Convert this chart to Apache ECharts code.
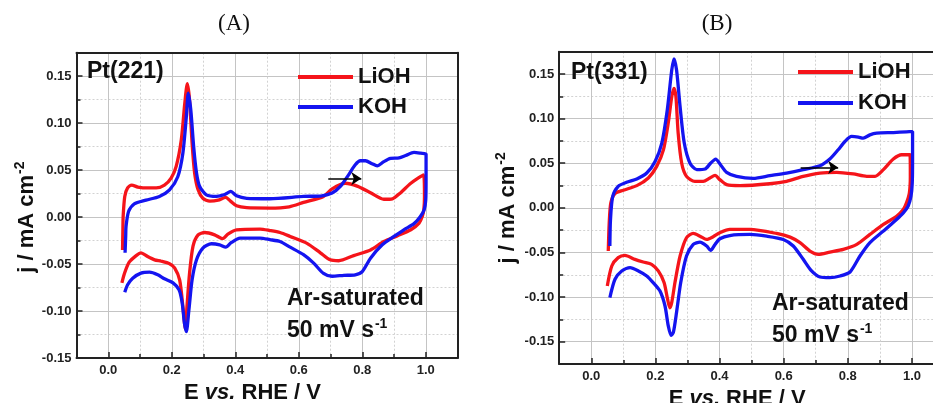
<!DOCTYPE html>
<html>
<head>
<meta charset="utf-8">
<script src="https://cdn.jsdelivr.net/npm/echarts@6/dist/echarts.min.js"></script>
<style>
  html, body { margin: 0; padding: 0; background: #ffffff; }
  #chart { width: 933px; height: 403px; }
</style>
</head>
<body>
<div id="chart"></div>
<script>
// Cyclic voltammograms of stepped Pt electrodes, [E (V vs RHE), j (mA cm^-2)]
const pt221_LiOH = [
  [0.045,-0.035],[0.046,-0.015],[0.047,0.001],[0.052,0.022],[0.061,0.031],[0.074,0.034],[0.093,0.032],
  [0.124,0.031],[0.151,0.031],[0.177,0.034],[0.198,0.0415],[0.214,0.054],[0.230,0.082],[0.241,0.121],
  [0.249,0.142],[0.256,0.125],[0.264,0.079],[0.272,0.047],[0.283,0.029],[0.298,0.020],[0.320,0.017],
  [0.346,0.018],[0.370,0.021],[0.385,0.017],[0.404,0.012],[0.436,0.010],[0.509,0.0096],[0.570,0.011],
  [0.615,0.0156],[0.678,0.022],[0.705,0.030],[0.747,0.036],[0.784,0.033],[0.826,0.026],[0.868,0.019],
  [0.895,0.0195],[0.921,0.026],[0.953,0.036],[0.993,0.045],[0.996,0.022],[0.994,0.008],[0.989,0.0006],
  [0.979,-0.0064],[0.953,-0.0135],[0.910,-0.020],[0.868,-0.026],[0.826,-0.035],[0.773,-0.041],
  [0.726,-0.0465],[0.699,-0.0455],[0.668,-0.038],[0.626,-0.028],[0.573,-0.0206],[0.541,-0.0164],
  [0.509,-0.0143],[0.478,-0.0128],[0.404,-0.0135],[0.378,-0.0178],[0.360,-0.023],[0.335,-0.0189],
  [0.304,-0.0164],[0.283,-0.019],[0.267,-0.031],[0.256,-0.060],[0.248,-0.095],[0.243,-0.119],
  [0.235,-0.095],[0.225,-0.067],[0.209,-0.054],[0.193,-0.0497],[0.167,-0.047],[0.146,-0.0455],
  [0.124,-0.042],[0.103,-0.038],[0.088,-0.041],[0.066,-0.048],[0.051,-0.060],[0.043,-0.070]
];
const pt221_KOH = [
  [0.053,-0.038],[0.055,-0.020],[0.056,-0.010],[0.064,0.006],[0.082,0.014],[0.119,0.018],[0.161,0.022],
  [0.193,0.029],[0.219,0.043],[0.235,0.068],[0.246,0.107],[0.252,0.132],[0.260,0.114],[0.269,0.075],
  [0.278,0.047],[0.288,0.0326],[0.309,0.0237],[0.341,0.022],[0.367,0.024],[0.386,0.0273],[0.404,0.0227],
  [0.436,0.020],[0.509,0.0195],[0.615,0.022],[0.673,0.0227],[0.705,0.0256],[0.731,0.0326],[0.757,0.045],
  [0.778,0.0557],[0.794,0.060],[0.810,0.060],[0.831,0.0568],[0.847,0.0546],[0.868,0.059],[0.889,0.0624],
  [0.916,0.063],[0.937,0.0656],[0.963,0.0688],[0.984,0.068],[1.001,0.067],[1.001,0.040],[1.000,0.0184],
  [0.995,0.0078],[0.982,0.0],[0.963,-0.007],[0.931,-0.0135],[0.900,-0.0206],[0.863,-0.0295],
  [0.826,-0.0437],[0.800,-0.058],[0.778,-0.0614],[0.742,-0.062],[0.705,-0.063],[0.678,-0.060],
  [0.647,-0.049],[0.615,-0.040],[0.573,-0.032],[0.541,-0.026],[0.509,-0.024],[0.478,-0.0224],
  [0.415,-0.0224],[0.388,-0.027],[0.370,-0.032],[0.351,-0.0295],[0.325,-0.0284],[0.298,-0.033],
  [0.278,-0.0455],[0.264,-0.067],[0.254,-0.099],[0.246,-0.122],[0.240,-0.113],[0.233,-0.0916],
  [0.223,-0.0774],[0.204,-0.070],[0.177,-0.0657],[0.156,-0.0614],[0.130,-0.0586],[0.103,-0.0596],
  [0.077,-0.065],[0.061,-0.072],[0.052,-0.080]
];
const pt331_LiOH = [
  [0.053,-0.0484],[0.056,-0.0168],[0.061,0.0056],[0.074,0.016],[0.100,0.0197],[0.142,0.0249],
  [0.178,0.0335],[0.204,0.0465],[0.225,0.065],[0.240,0.095],[0.251,0.1246],[0.258,0.134],[0.264,0.1246],
  [0.271,0.0837],[0.282,0.050],[0.297,0.0353],[0.323,0.0297],[0.349,0.0297],[0.370,0.0335],[0.386,0.0364],
  [0.401,0.0316],[0.422,0.026],[0.464,0.0249],[0.557,0.027],[0.609,0.0297],[0.661,0.0353],[0.713,0.039],
  [0.765,0.0398],[0.817,0.038],[0.859,0.0353],[0.885,0.0353],[0.911,0.0428],[0.942,0.0547],[0.968,0.0595],
  [0.994,0.0595],[0.995,0.0353],[0.992,0.0167],[0.983,0.0056],[0.973,-0.0019],[0.952,-0.0094],
  [0.911,-0.0186],[0.869,-0.0298],[0.828,-0.041],[0.786,-0.0466],[0.744,-0.0496],[0.708,-0.0521],
  [0.682,-0.0484],[0.651,-0.039],[0.620,-0.0328],[0.578,-0.0287],[0.495,-0.0242],[0.432,-0.0242],
  [0.401,-0.0279],[0.380,-0.0324],[0.360,-0.0354],[0.339,-0.0317],[0.318,-0.0287],[0.297,-0.0335],
  [0.277,-0.054],[0.261,-0.0837],[0.251,-0.106],[0.245,-0.112],[0.238,-0.1024],[0.227,-0.0837],
  [0.209,-0.0707],[0.188,-0.0633],[0.162,-0.0607],[0.136,-0.0577],[0.105,-0.0533],[0.084,-0.0558],
  [0.064,-0.0652],[0.050,-0.0875]
];
const pt331_KOH = [
  [0.058,-0.0428],[0.060,-0.013],[0.067,0.013],[0.084,0.0241],[0.110,0.0286],[0.142,0.0324],[0.173,0.039],
  [0.199,0.052],[0.220,0.0726],[0.237,0.1097],[0.251,0.1544],[0.258,0.167],[0.266,0.1544],[0.277,0.1134],
  [0.290,0.0726],[0.308,0.050],[0.329,0.0428],[0.355,0.0435],[0.372,0.050],[0.388,0.0547],[0.403,0.0483],
  [0.422,0.0398],[0.453,0.0353],[0.505,0.033],[0.557,0.036],[0.609,0.039],[0.661,0.0428],[0.713,0.0472],
  [0.744,0.0547],[0.770,0.0651],[0.791,0.0744],[0.812,0.080],[0.833,0.0793],[0.848,0.0781],[0.869,0.0818],
  [0.890,0.0837],[0.942,0.0844],[0.983,0.0852],[1.002,0.0855],[1.002,0.054],[1.001,0.028],[0.997,0.013],
  [0.988,0.0018],[0.973,-0.0056],[0.952,-0.013],[0.911,-0.026],[0.869,-0.039],[0.838,-0.054],
  [0.807,-0.0719],[0.776,-0.0764],[0.744,-0.0782],[0.713,-0.0775],[0.687,-0.0707],[0.661,-0.0577],
  [0.630,-0.0428],[0.599,-0.0354],[0.547,-0.0317],[0.495,-0.0298],[0.432,-0.031],[0.401,-0.0346],
  [0.386,-0.041],[0.372,-0.0477],[0.360,-0.0428],[0.339,-0.0384],[0.318,-0.041],[0.297,-0.054],
  [0.279,-0.0837],[0.266,-0.117],[0.256,-0.1396],[0.249,-0.143],[0.240,-0.132],[0.230,-0.110],
  [0.214,-0.093],[0.193,-0.0837],[0.173,-0.0763],[0.147,-0.0707],[0.121,-0.067],[0.095,-0.0707],
  [0.074,-0.080],[0.058,-0.1005]
];

// Scan-direction arrows [start, end]
const arrowA = [[0.693, 0.041], [0.797, 0.041]];
const arrowB = [[0.653, 0.0453], [0.770, 0.0453]];

// Axis ranges and labelled tick spans
const xRange = [-0.1, 1.1];
const yRanges = [[-0.15, 0.175], [-0.175, 0.175]];
const xTickSpan = [0, 1.0];      // labelled every 0.2
const yTickSpan = [-0.15, 0.15]; // labelled every 0.05
const xStep = 0.2;
const yStep = 0.05;

const panelTitles = ['(A)', '(B)'];
const electrodes = ['Pt(221)', 'Pt(331)'];
const seriesNames = ['LiOH', 'KOH'];

const RED = '#f5141a';
const BLUE = '#1414f0';
const AXIS = '#222222';
const FONT = 'Liberation Sans, Arial, sans-serif';
const SERIF = 'Liberation Serif, Times New Roman, serif';

const chart = echarts.init(document.getElementById('chart'), null, { renderer: 'canvas' });

// plotting frames (pixel boxes)
const frames = [
  { left: 76.5, top: 52.7, width: 381, height: 305.3 },
  { left: 559.2, top: 51.7, width: 384.8, height: 312.3 }
];

const grids = [];
const xAxes = [];
const yAxes = [];
const dataAxisIndex = [];

const nameRich = {
  n: { fontFamily: FONT, fontWeight: 'bold', fontSize: 22, color: '#111' },
  i: { fontFamily: FONT, fontWeight: 'bold', fontStyle: 'italic', fontSize: 22, color: '#111' },
  s: { fontFamily: FONT, fontWeight: 'bold', fontSize: 14, color: '#111', padding: [0, 0, 14, 1] }
};
const xNameGap = [10, 14];
const yNameGap = [28, 37];

const gridLineSolid = { color: '#c4c4c4', width: 1 };
const gridLineDot = { color: '#d2d2d2', width: 1, type: [2, 2] };
const tickStyle = { color: AXIS, width: 1.5 };
const labelStyle = { fontFamily: FONT, fontWeight: 'bold', fontSize: 13, color: '#222' };

frames.forEach(function (f, g) {
  const yr = yRanges[g];
  // sub-box spanning the labelled x range, full frame height
  const xFrac0 = (xTickSpan[0] - xRange[0]) / (xRange[1] - xRange[0]);
  const xFrac1 = (xTickSpan[1] - xRange[0]) / (xRange[1] - xRange[0]);
  const vBox = { left: f.left + f.width * xFrac0, top: f.top, width: f.width * (xFrac1 - xFrac0), height: f.height };
  // sub-box spanning the labelled y range, full frame width
  const yFrac0 = (yr[1] - yTickSpan[1]) / (yr[1] - yr[0]);
  const yFrac1 = (yr[1] - yTickSpan[0]) / (yr[1] - yr[0]);
  const hBox = { left: f.left, top: f.top + f.height * yFrac0, width: f.width, height: f.height * (yFrac1 - yFrac0) };

  const gData = grids.length;
  grids.push(Object.assign({ outerBoundsMode: 'none', containLabel: false }, f));
  const gV = grids.length;
  grids.push(Object.assign({ outerBoundsMode: 'none', containLabel: false }, vBox));
  const gH = grids.length;
  grids.push(Object.assign({ outerBoundsMode: 'none', containLabel: false }, hBox));

  dataAxisIndex.push({ x: xAxes.length, y: yAxes.length });

  // data axes: frame lines only
  xAxes.push({
    gridIndex: gData, type: 'value', position: 'bottom', min: xRange[0], max: xRange[1],
    axisLine: { show: true, onZero: false, lineStyle: { color: AXIS, width: 2 } },
    axisTick: { show: false }, axisLabel: { show: false }, splitLine: { show: false }
  });
  yAxes.push({
    gridIndex: gData, type: 'value', position: 'left', min: yr[0], max: yr[1],
    axisLine: { show: true, onZero: false, lineStyle: { color: AXIS, width: 2 } },
    axisTick: { show: false }, axisLabel: { show: false }, splitLine: { show: false }
  });
  xAxes.push({
    gridIndex: gData, type: 'value', position: 'top', min: xRange[0], max: xRange[1],
    axisLine: { show: true, onZero: false, lineStyle: { color: AXIS, width: 2 } },
    axisTick: { show: false }, axisLabel: { show: false }, splitLine: { show: false }
  });
  yAxes.push({
    gridIndex: gData, type: 'value', position: 'right', min: yr[0], max: yr[1],
    axisLine: { show: true, onZero: false, lineStyle: { color: AXIS, width: 2 } },
    axisTick: { show: false }, axisLabel: { show: false }, splitLine: { show: false }
  });

  // vertical grid, x ticks, x labels and x name
  xAxes.push({
    gridIndex: gV, type: 'value', position: 'bottom', min: xTickSpan[0], max: xTickSpan[1], interval: xStep,
    name: '{n|E }{i|vs.}{n| RHE / V}', nameLocation: 'middle', nameGap: xNameGap[g],
    nameTextStyle: { rich: nameRich, padding: [0, 29, 0, 0] },
    axisLine: { show: false, onZero: false },
    axisTick: { show: true, inside: true, length: 6, lineStyle: tickStyle },
    minorTick: { show: true, splitNumber: 2, length: 4, lineStyle: tickStyle },
    axisLabel: Object.assign({ margin: 6, formatter: function (v) { return v.toFixed(1); } }, labelStyle),
    splitLine: { show: true, lineStyle: gridLineSolid },
    minorSplitLine: { show: true, lineStyle: gridLineDot }
  });
  yAxes.push({ gridIndex: gV, type: 'value', show: false, min: 0, max: 1 });

  // horizontal grid, y ticks, y labels and y name
  xAxes.push({ gridIndex: gH, type: 'value', show: false, min: 0, max: 1 });
  yAxes.push({
    gridIndex: gH, type: 'value', position: 'left', min: yTickSpan[0], max: yTickSpan[1], interval: yStep,
    name: '{n|j / mA cm}{s|-2}', nameLocation: 'middle', nameGap: yNameGap[g],
    nameTextStyle: { rich: nameRich },
    axisLine: { show: false, onZero: false },
    axisTick: { show: true, inside: true, length: 6, lineStyle: tickStyle },
    minorTick: { show: true, splitNumber: 2, length: 4, lineStyle: tickStyle },
    axisLabel: Object.assign({ margin: 5, formatter: function (v) { return v.toFixed(2); } }, labelStyle),
    splitLine: { show: true, lineStyle: gridLineSolid },
    minorSplitLine: { show: true, lineStyle: gridLineDot }
  });
});

function cvSeries(name, data, color, g, arrow) {
  const s = {
    name: name, type: 'line', data: data,
    xAxisIndex: dataAxisIndex[g].x, yAxisIndex: dataAxisIndex[g].y,
    showSymbol: false, symbol: 'none', smooth: 0.25, z: name === 'KOH' ? 4 : 3,
    lineStyle: { color: color, width: 3.3 }, itemStyle: { color: color },
    animation: false
  };
  if (arrow) {
    s.markLine = {
      silent: true, animation: false, symbol: ['none', 'arrow'], symbolSize: 10,
      label: { show: false },
      lineStyle: { color: '#000', width: 1.5, type: 'solid' },
      data: [[{ coord: arrow[0] }, { coord: arrow[1] }]]
    };
  }
  return s;
}

const series = [
  cvSeries(seriesNames[0], pt221_LiOH, RED, 0, arrowA),
  cvSeries(seriesNames[1], pt221_KOH, BLUE, 0),
  cvSeries(seriesNames[0], pt331_LiOH, RED, 1, arrowB),
  cvSeries(seriesNames[1], pt331_KOH, BLUE, 1)
];

function legendAt(left, top, gap) {
  return {
    left: left, top: top, orient: 'vertical', itemGap: gap, padding: 0,
    icon: 'rect', itemWidth: 55, itemHeight: 4, itemStyle: { borderWidth: 0 },
    selectedMode: false,
    textStyle: { fontFamily: FONT, fontWeight: 'bold', fontSize: 22, color: '#111', lineHeight: 24 },
    data: seriesNames
  };
}

function label(x, y, text, extra) {
  return {
    type: 'text', x: x, y: y, silent: true, z: 100,
    style: Object.assign({
      text: text, fontFamily: FONT, fontWeight: 'bold', fontSize: 23, fill: '#111',
      textVerticalAlign: 'middle'
    }, extra || {})
  };
}

const supRich = {
  a: { fontFamily: FONT, fontWeight: 'bold', fontSize: 23, color: '#111' },
  b: { fontFamily: FONT, fontWeight: 'bold', fontSize: 14, color: '#111', padding: [0, 0, 14, 1] }
};

const graphics = [
  label(234, 24, panelTitles[0], { fontFamily: SERIF, fontWeight: 'normal', fontSize: 23, textAlign: 'center' }),
  label(717, 24, panelTitles[1], { fontFamily: SERIF, fontWeight: 'normal', fontSize: 23, textAlign: 'center' }),
  label(87, 72, electrodes[0]),
  label(571, 73, electrodes[1]),
  label(287, 299, 'Ar-saturated'),
  label(772, 304, 'Ar-saturated'),
  label(287, 331, '{a|50 mV s}{b|-1}', { rich: supRich }),
  label(772, 336, '{a|50 mV s}{b|-1}', { rich: supRich })
];

chart.setOption({
  animation: false,
  backgroundColor: '#ffffff',
  grid: grids,
  xAxis: xAxes,
  yAxis: yAxes,
  legend: [legendAt(298, 65, 6), legendAt(798, 60, 7)],
  series: series,
  graphic: graphics
});
</script>
</body>
</html>
